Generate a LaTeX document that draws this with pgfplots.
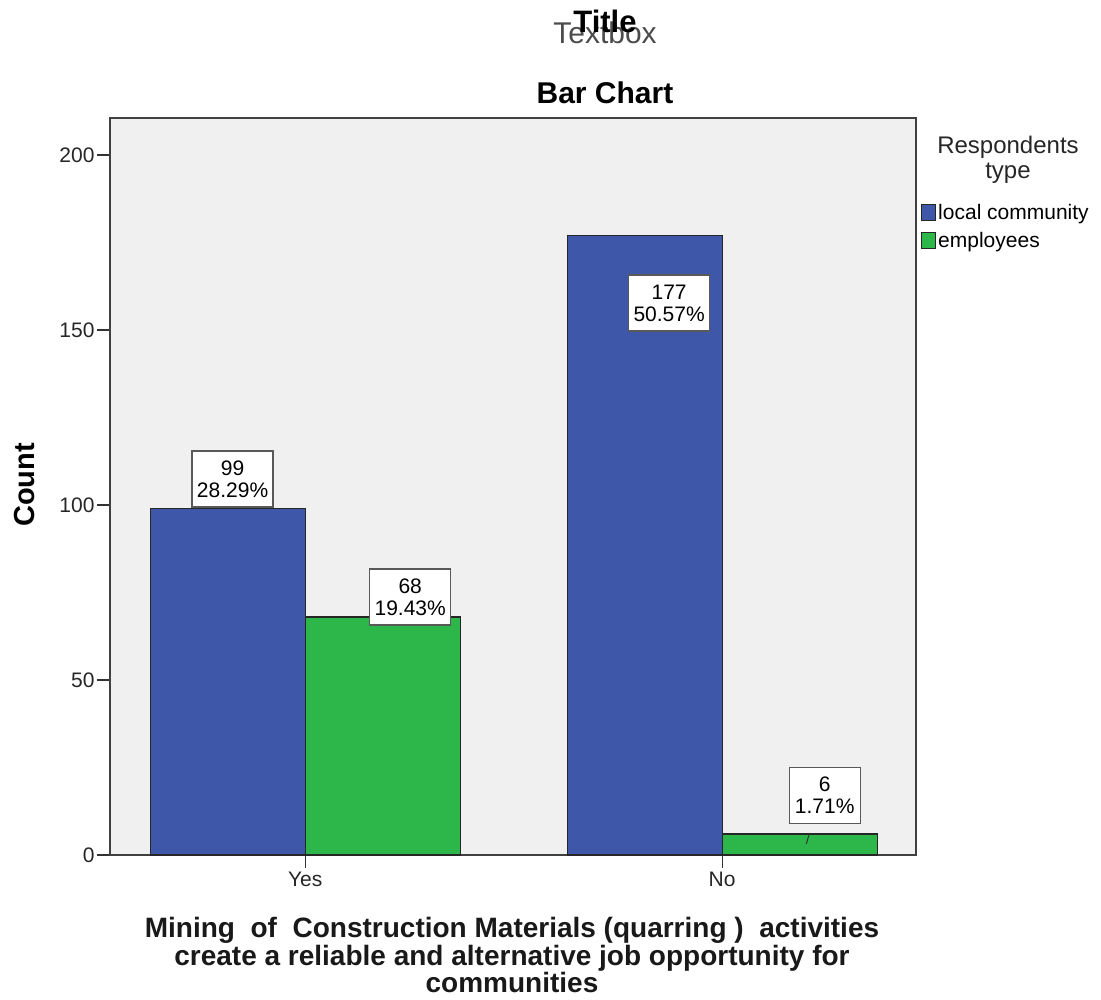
\documentclass[border=0pt]{standalone}
\usepackage{fontspec}
\setmainfont{Liberation Sans}
\usepackage{pgfplots}
\pgfplotsset{compat=1.18}

\definecolor{spssblue}{RGB}{62,87,168}
\definecolor{spssgreen}{RGB}{45,183,74}
\definecolor{spssbg}{RGB}{240,240,240}

\newcommand{\fs}[2]{\fontsize{#1}{#2}\selectfont}

\begin{document}
\begin{tikzpicture}[
  lbl/.style={draw=gray!70!black, line width=1.3pt, fill=white, align=center,
    minimum width=81pt, minimum height=56pt, inner sep=1pt,
    font=\fs{21}{22}}]
  \useasboundingbox (-110pt,-145pt) rectangle (991pt,855pt);
  \begin{axis}[
    at={(0,0)}, anchor=south west,
    scale only axis, width=806pt, height=737pt,
    ybar=0pt, bar width=155pt,
    xmin=-0.468, xmax=1.465,
    ymin=0, ymax=210.6,
    xtick={0,1}, xticklabels={Yes,No},
    ytick={0,50,100,150,200},
    tick align=outside, major tick length=13pt,
    xtick pos=bottom, ytick pos=left,
    tick style={black!80, line width=1.2pt},
    axis line style={black!75, line width=1.5pt},
    axis background/.style={fill=spssbg},
    /pgf/number format/assume math mode=true,
    ticklabel style={font=\fs{21}{24}, text=black!85},
    yticklabel style={xshift=1pt},
    xticklabel style={yshift=-1pt},
    legend style={at={(1.006,0.886)}, anchor=north west, draw=none, fill=none,
      inner sep=0pt, row sep=7pt, font=\fs{21}{23},
      legend cell align=left},
    legend image code/.code={\draw[#1, line width=1.2pt] (0pt,-8pt) rectangle (14pt,8pt);},
    clip=false,
  ]
    \addplot[fill=spssblue, draw=black!85, line width=1.2pt] coordinates {(0,99) (1,177)};
    \addlegendentry{local community}
    \addplot[fill=spssgreen, draw=black!85, line width=1.2pt] coordinates {(0,68) (1,6)};
    \addlegendentry{employees}

    \node[lbl] at (axis cs:-0.174,107.4) {99\\28.29\%};
    \node[lbl] at (axis cs:0.252,73.7) {68\\19.43\%};
    \node[lbl] at (axis cs:0.873,157.7) {177\\50.57\%};
    \draw[black!80, line width=1pt] (axis cs:1.202,3.2) -- (axis cs:1.209,6);
    \node[lbl, minimum width=71pt] at (axis cs:1.246,17.0) {6\\1.71\%};
  \end{axis}
  % titles and labels placed in the picture's own pt grid
  \node[font=\fs{30}{34}, text=gray!60!black] at (495pt,822pt) {Textbox};
  \node[font=\bfseries\fs{31}{34}] at (495pt,834pt) {Title};
  \node[font=\bfseries\fs{30}{34}] at (495pt,762pt) {Bar Chart};
  \node[font=\fs{24}{26}, text=black!85] at (898pt,708pt) {Respondents};
  \node[font=\fs{24}{26}, text=black!85] at (898pt,682pt) {type};
  \node[font=\bfseries\fs{29}{25}, rotate=90] at (-85pt,370pt) {Count};
  \node[font=\bfseries\fs{28}{25}, align=center, text=black!90] at (402pt,-100pt)
    {Mining\ \ of\ \ Construction Materials (quarring )\ \ activities\\
     create a reliable and alternative job opportunity for\\
     communities};
\end{tikzpicture}
\end{document}
